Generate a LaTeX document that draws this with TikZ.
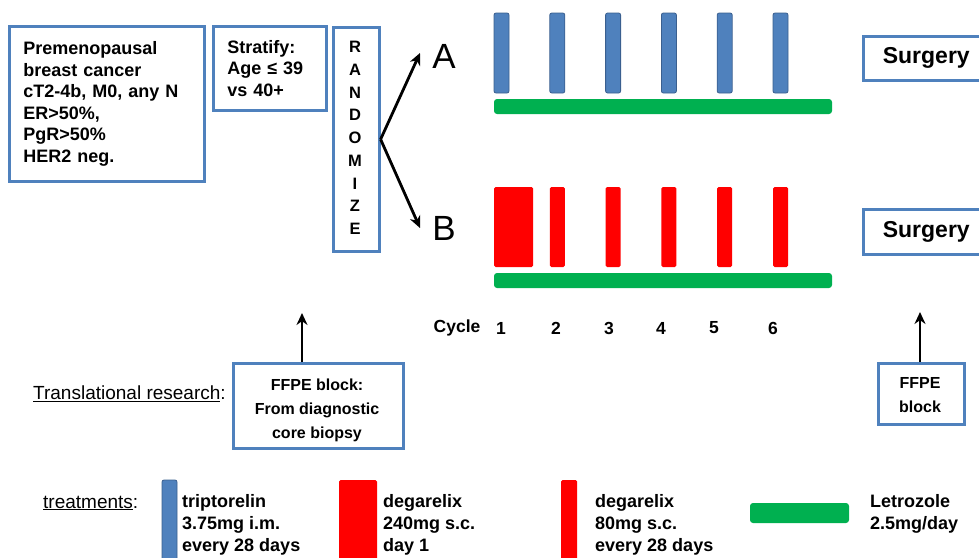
\documentclass[tikz,border=0pt]{standalone}
\usepackage{fontspec}
\setmainfont{Liberation Sans}
\usetikzlibrary{arrows.meta}
\definecolor{boxblue}{HTML}{4F81BD}
\definecolor{bardark}{HTML}{3A5F8F}
\definecolor{barblue}{HTML}{4F81BD}
\definecolor{rred}{HTML}{FF0000}
\definecolor{lgreen}{HTML}{00B050}
\begin{document}
\begin{tikzpicture}[x=1pt,y=-1pt,
  bx/.style={draw=boxblue, line width=2.6pt},
  bodytxt/.style={font=\fontsize{18}{21.6}\selectfont\bfseries, align=left, inner sep=0pt},
  smalltxt/.style={font=\fontsize{16}{24}\selectfont\bfseries, align=center, inner sep=0pt},
  legtxt/.style={font=\fontsize{18}{22}\selectfont\bfseries, align=left, inner sep=0pt, anchor=west},
  undertxt/.style={font=\fontsize{19}{22}\selectfont, inner sep=0pt, anchor=west},
  cyc/.style={font=\fontsize{17.5}{20}\selectfont\bfseries, inner sep=0pt},
  arr/.style={-{Stealth[length=12pt,width=11pt]}, line width=2.8pt},
  bluebar/.style={fill=barblue, draw=bardark, line width=0.8pt, rounded corners=2pt},
  redbar/.style={fill=rred, rounded corners=1.5pt},
  greenbar/.style={fill=lgreen, rounded corners=3pt}]
\useasboundingbox (0,0) rectangle (979,557);
\clip (0,0) rectangle (979,557);

% eligibility
\node[bx, bodytxt, text width=167pt, inner xsep=14pt, minimum height=155pt, anchor=north west] (elig) at (8,25)
  {Premenopausal\\breast cancer\\cT2-4b, M0, any N\\ER>50\%,\\PgR>50\%\\HER2 neg.};
\node[bx, bodytxt, text width=85pt, inner xsep=14pt, minimum height=84pt, anchor=north west] (strat) at (212,25)
  {Stratify:\\Age ≤ 39\\vs 40+};
\node[bx, minimum width=46pt, minimum height=224pt, anchor=north west, inner sep=0pt] (rand) at (332,26) {};
\node[font=\fontsize{16.5}{22.7}\selectfont\bfseries, align=center, inner sep=0pt] (randtxt) at (355,138)
  {R\\A\\N\\D\\O\\M\\I\\Z\\E};

% arms
\node[font=\fontsize{35}{40}\selectfont, inner sep=0pt] (armA) at (444,56) {A};
\node[font=\fontsize{35}{40}\selectfont, inner sep=0pt] (armB) at (444,228) {B};
\coordinate (tA) at (420,53);
\coordinate (tB) at (420,228);
\draw[arr] (rand.east) -- (tA);
\draw[arr] (rand.east) -- (tB);

% arm A bars
\foreach \i in {0,...,5} \path[bluebar] ({494+55.8*\i},13) rectangle ++(15,80);
\path[greenbar] (494,99) rectangle (832,114);
% arm B bars
\path[redbar] (494,187) rectangle (533,267);
\foreach \i in {1,...,5} \path[redbar] ({494+55.8*\i},187) rectangle ++(15,80);
\path[greenbar] (494,273) rectangle (832,288);

% surgery
\node[bx, minimum width=126pt, minimum height=44pt, anchor=north west, inner sep=0pt,
      font=\fontsize{23}{26}\selectfont\bfseries] (surgA) at (862,35) {Surgery};
\node[bx, minimum width=126pt, minimum height=45pt, anchor=north west, inner sep=0pt,
      font=\fontsize{23}{26}\selectfont\bfseries] (surgB) at (862,208) {Surgery};

% cycles
\node[cyc] (c0) at (457,328) {Cycle};
\node[cyc] (c1) at (501,328) {1};
\node[cyc] (c2) at (556,328) {2};
\node[cyc] (c3) at (609,328) {3};
\node[cyc] (c4) at (661,328) {4};
\node[cyc] (c5) at (714,328) {5};
\node[cyc] (c6) at (773,328) {6};

% translational research
\node[undertxt] (trl) at (33,394) {\underline{Translational research}:};
\node[bx, minimum width=170pt, minimum height=85pt, anchor=north west, inner sep=0pt] (ffpe1) at (232,362) {};
\node[smalltxt] (ffpe1txt) at (317,410) {FFPE block:\\From diagnostic\\core biopsy};
\coordinate (up1) at (302,313);
\draw[arr] (ffpe1.north -| up1) -- (up1);

\node[bx, minimum width=86pt, minimum height=61pt, anchor=north west, inner sep=0pt] (ffpe2) at (877,362) {};
\node[smalltxt] (ffpe2txt) at (920,395) {FFPE\\block};
\coordinate (up2) at (920,312);
\draw[arr] (ffpe2.north -| up2) -- (up2);

% legend
\node[undertxt] (trt) at (43,503) {\underline{treatments}:};
\path[bluebar] (162,480) rectangle (177,580);
\node[legtxt] (lg1) at (182,525) {triptorelin\\3.75mg i.m.\\every 28 days};
\path[redbar] (339,480) rectangle (377,580);
\node[legtxt] (lg2) at (383,525) {degarelix\\240mg s.c.\\day 1};
\path[redbar] (561,480) rectangle (577,580);
\node[legtxt] (lg3) at (595,525) {degarelix\\80mg s.c.\\every 28 days};
\path[greenbar] (750,503) rectangle (849,523);
\node[legtxt] (lg4) at (870,514) {Letrozole\\2.5mg/day};
\end{tikzpicture}
\end{document}
